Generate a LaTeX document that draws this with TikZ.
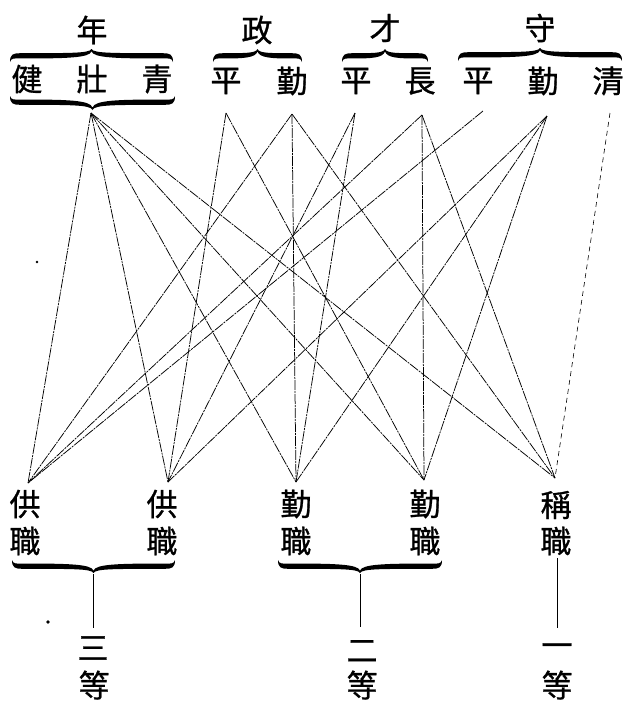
\documentclass[tikz,border=0pt]{standalone}
\usepackage{fontspec}
\newfontfamily\cjk{Noto Sans CJK TC}[FakeBold=0.9]
\newcommand\tbrace[5]{% #1 x-left, #2 x-right, #3 baseline y, #4 yscale (1 tip up, -1 tip down), #5 tip height
  \begin{scope}[shift={(#1,#3)}, yscale=#4]
    \pgfmathsetmacro\BrL{#2-#1}
    \fill (0,6) .. controls (0,-1.5) and (3,-2.8) .. (10,-2.8)
      .. controls ({0.35*\BrL},-3) and ({0.5*\BrL-2},-2.4) .. ({0.5*\BrL},-#5)
      .. controls ({0.5*\BrL+2},-2.4) and ({0.65*\BrL},-3) .. ({\BrL-10},-2.8)
      .. controls ({\BrL-3},-2.8) and (\BrL,-1.5) .. (\BrL,6)
      .. controls ({\BrL-1},2) and ({\BrL-4},2.4) .. ({\BrL-10},2.4)
      .. controls ({0.65*\BrL},2.6) and ({0.5*\BrL+2},1.8) .. ({0.5*\BrL},{-#5+2.4})
      .. controls ({0.5*\BrL-2},1.8) and ({0.35*\BrL},2.6) .. (10,2.4)
      .. controls (4,2.4) and (1,2) .. (0,6) -- cycle;
  \end{scope}}
\begin{document}
\begin{tikzpicture}[x=1pt,y=-1pt,
  ch/.style={font=\cjk\fontsize{31pt}{31pt}\selectfont, inner sep=0pt, anchor=center},
  ray/.style={line width=0.75pt, dash pattern=on 10pt off 1pt on 2pt off 1pt},
  faint/.style={line width=0.6pt, dash pattern=on 5pt off 4pt},
  stem/.style={line width=0.8pt}]
\useasboundingbox (0,0) rectangle (629,705);

% ---- top headings
\node[ch] (nian)  at (92,30)  {年};
\node[ch] (zheng) at (257,30) {政};
\node[ch] (cai)   at (385,28) {才};
\node[ch] (shou)  at (540,28) {守};

% ---- top qualities
\node[ch] (jian)   at (27,79)  {健};
\node[ch] (zhuang) at (92,79)  {壯};
\node[ch] (qingA)  at (157,79) {青};
\node[ch] (pingA)  at (226,81) {平};
\node[ch] (qinA)   at (292,81) {勤};
\node[ch] (pingB)  at (356,81) {平};
\node[ch] (chang)  at (420,81) {長};
\node[ch] (pingC)  at (478,81) {平};
\node[ch] (qinB)   at (543,81) {勤};
\node[ch] (qingB)  at (608,81) {清};

% ---- braces
\tbrace{10}{173}{56}{1}{7}
\tbrace{10}{175}{102}{-1}{8}
\tbrace{213}{302}{56}{1}{7}
\tbrace{342}{428}{56}{1}{7}
\tbrace{458}{622}{55}{1}{7}
\tbrace{12}{175}{566}{-1}{7}
\tbrace{278}{442}{566}{-1}{7}

% ---- bottom ratings
\node[ch] (gongA) at (25,504)  {供};
\node[ch] (zhiA)  at (25,541)  {職};
\node[ch] (gongB) at (162,504) {供};
\node[ch] (zhiB)  at (162,541) {職};
\node[ch] (qinC)  at (296,504) {勤};
\node[ch] (zhiC)  at (296,541) {職};
\node[ch] (qinD)  at (425,504) {勤};
\node[ch] (zhiD)  at (425,541) {職};
\node[ch] (cheng) at (556,505) {稱};
\node[ch] (zhiE)  at (556,541) {職};

\node[ch] (san)   at (93,648)  {三};
\node[ch] (dengA) at (94,685)  {等};
\node[ch] (er)    at (362,651) {二};
\node[ch] (dengB) at (362,685) {等};
\node[ch] (yi)    at (557,650) {一};
\node[ch] (dengC) at (557,685) {等};

% ---- line end points
\coordinate (tA) at (91,113);
\coordinate (tB) at (226,113);
\coordinate (tC) at (292,114);
\coordinate (tD) at (355,113);
\coordinate (tE) at (422,115);
\coordinate (tF) at (483,111);
\coordinate (tG) at (547,116);
\coordinate (tH) at (610,113);
\coordinate (bA) at (28,483);
\coordinate (bB) at (168,482);
\coordinate (bC) at (296,482);
\coordinate (bD) at (424,480);
\coordinate (bE) at (555,478);

\foreach \s/\t in {tA/bA,tA/bB,tA/bC,tA/bD,tA/bE,
                   tB/bB,tB/bD,
                   tC/bA,tC/bC,tC/bE,
                   tD/bB,tD/bC,
                   tE/bA,tE/bD,tE/bE,
                   tF/bA,
                   tG/bB,tG/bC,tG/bD}
  \draw[ray] (\s) -- (\t);
\draw[faint] (tH) -- (bE);

% ---- stems to grades
\coordinate (sA) at (93,574);
\coordinate (sAe) at (93,628);
\coordinate (sB) at (360,574);
\coordinate (sBe) at (360,627);
\coordinate (sC) at (557,558);
\coordinate (sCe) at (557,628);
\draw[stem] (sA) -- (sAe);
\draw[stem] (sB) -- (sBe);
\draw[stem] (sC) -- (sCe);

% ---- print specks
\fill (37,262) circle (1.3);
\fill (48,622) circle (1.8);
\end{tikzpicture}
\end{document}
